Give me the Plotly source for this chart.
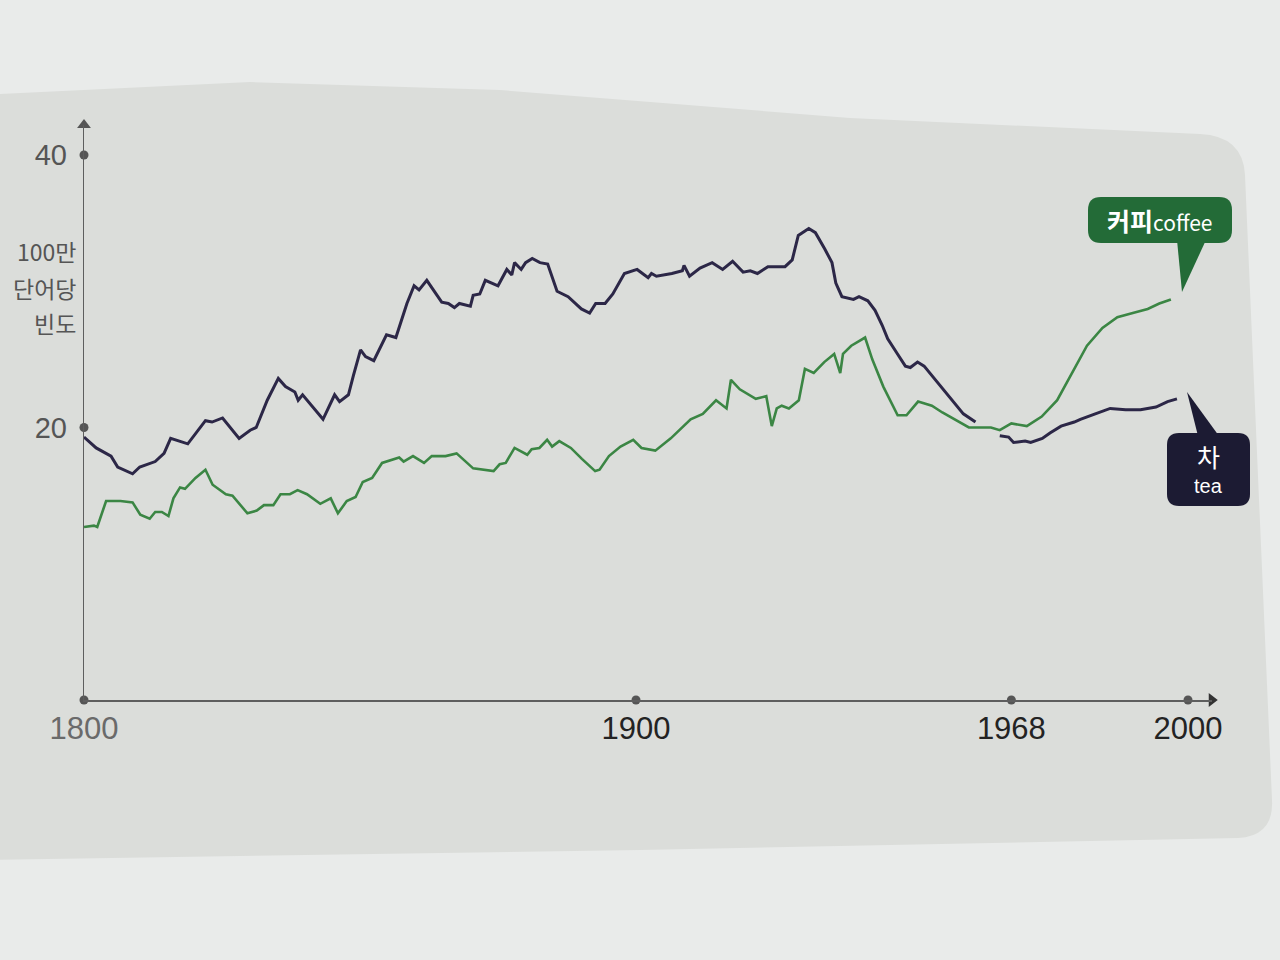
import plotly.graph_objects as go

# ---------------- data ----------------
tea_year = [1800.0, 1802.2, 1804.9, 1806.1, 1808.8, 1810.1, 1812.9, 1814.5, 1815.7, 1816.6,
            1818.8, 1822.0, 1823.2, 1825.1, 1828.1, 1830.1, 1831.2, 1833.2, 1835.2, 1836.5,
            1838.2, 1838.8, 1839.6, 1843.3, 1845.4, 1846.3, 1847.9, 1848.8, 1850.1, 1851.0,
            1852.5, 1854.8, 1856.5, 1858.5, 1859.8, 1860.7, 1862.1, 1864.8, 1866.0, 1867.1,
            1868.0, 1870.0, 1870.5, 1871.7, 1872.7, 1875.0, 1876.6, 1877.5, 1878.0, 1879.2,
            1880.0, 1881.2, 1882.6, 1884.0, 1885.7, 1887.7, 1890.1, 1891.6, 1892.7, 1894.4,
            1895.8, 1897.9, 1900.2, 1902.2, 1902.8, 1903.7, 1906.5, 1908.4, 1908.7, 1909.7,
            1911.6, 1913.8, 1915.7, 1917.5, 1919.4, 1920.7, 1922.0, 1923.9, 1927.0, 1928.3,
            1929.4, 1931.3, 1932.5, 1934.2, 1935.5, 1936.2, 1937.3, 1939.4, 1940.4, 1942.0,
            1943.3, 1944.6, 1945.6, 1947.2, 1948.8, 1949.7, 1951.0, 1952.2, 1954.2, 1956.7,
            1959.3, 1961.5,
            1963.7,
            1965.9, 1967.5, 1968.4, 1970.5, 1971.5, 1973.6, 1975.0, 1977.0, 1979.4, 1980.5,
            1983.2, 1985.9, 1988.7, 1991.4, 1994.2, 1996.3, 1998.0]
tea_value = [19.3, 18.5, 17.9, 17.1, 16.6, 17.1, 17.5, 18.1, 19.2, 19.1,
             18.8, 20.5, 20.4, 20.7, 19.2, 19.8, 20.0, 22.0, 23.6, 23.0,
             22.6, 22.0, 22.4, 20.6, 22.4, 21.9, 22.4, 23.8, 25.7, 25.2,
             24.9, 26.8, 26.6, 29.1, 30.4, 30.1, 30.8, 29.2, 29.1, 28.8,
             29.1, 28.9, 29.7, 29.8, 30.8, 30.4, 31.6, 31.2, 32.1, 31.6,
             32.1, 32.4, 32.1, 32.0, 30.0, 29.6, 28.7, 28.4, 29.1, 29.1,
             29.8, 31.3, 31.6, 31.0, 31.3, 31.1, 31.3, 31.5, 31.9, 31.1,
             31.7, 32.1, 31.6, 32.2, 31.4, 31.5, 31.3, 31.8, 31.8, 32.3,
             34.1, 34.6, 34.3, 33.1, 32.1, 30.6, 29.6, 29.4, 29.6, 29.3,
             28.6, 27.5, 26.5, 25.5, 24.5, 24.4, 24.8, 24.5, 23.5, 22.3,
             21.0, 20.4,
             None,
             19.4, 19.3, 18.9, 19.0, 18.9, 19.2, 19.6, 20.1, 20.4, 20.6,
             21.0, 21.4, 21.3, 21.3, 21.5, 21.9, 22.1]

coffee_year = [1800.0, 1801.8, 1802.4, 1804.0, 1806.6, 1808.8, 1810.2, 1811.9, 1812.9, 1814.1,
               1815.3, 1816.2, 1817.4, 1818.3, 1820.2, 1822.0, 1823.3, 1825.7, 1826.9, 1829.6,
               1831.3, 1832.6, 1834.3, 1835.6, 1837.3, 1838.7, 1840.4, 1842.8, 1844.7, 1846.0,
               1847.6, 1849.2, 1850.5, 1852.2, 1854.0, 1857.1, 1857.9, 1859.6, 1861.6, 1863.0,
               1865.5, 1867.5, 1870.5, 1874.2, 1875.3, 1876.4, 1878.0, 1880.3, 1881.1, 1882.5,
               1883.9, 1884.8, 1886.1, 1888.2, 1890.2, 1892.6, 1893.4, 1895.1, 1897.2, 1899.5,
               1901.0, 1903.5, 1906.3, 1909.9, 1912.1, 1914.5, 1916.4, 1917.2, 1918.8, 1921.7,
               1923.6, 1924.6, 1925.5, 1926.4, 1927.7, 1929.5, 1930.6, 1932.2, 1934.1, 1935.9,
               1937.0, 1937.5, 1939.0, 1941.5, 1942.8, 1944.8, 1947.4, 1949.0, 1951.1, 1953.6,
               1955.5, 1958.1, 1960.3, 1962.4, 1964.3, 1965.9, 1968.0, 1970.8, 1973.5, 1976.3,
               1979.0, 1981.7, 1984.5, 1987.2, 1990.0, 1992.7, 1994.8, 1996.9]
coffee_value = [12.7, 12.8, 12.7, 14.6, 14.6, 14.5, 13.6, 13.3, 13.8, 13.8,
                13.5, 14.8, 15.6, 15.5, 16.3, 16.9, 15.8, 15.1, 15.0, 13.7,
                13.9, 14.3, 14.3, 15.1, 15.1, 15.4, 15.1, 14.4, 14.8, 13.7,
                14.6, 14.9, 16.0, 16.3, 17.4, 17.8, 17.5, 17.9, 17.4, 17.9,
                17.9, 18.1, 17.0, 16.8, 17.3, 17.4, 18.5, 18.0, 18.4, 18.5,
                19.1, 18.6, 19.0, 18.5, 17.7, 16.8, 16.9, 17.9, 18.6, 19.1,
                18.5, 18.3, 19.2, 20.6, 21.0, 22.0, 21.4, 23.5, 22.8, 22.1,
                22.3, 20.1, 21.4, 21.6, 21.4, 22.0, 24.3, 24.0, 24.8, 25.4,
                24.0, 25.4, 26.0, 26.6, 25.0, 23.0, 20.9, 20.9, 21.9, 21.6,
                21.1, 20.5, 20.0, 20.0, 20.0, 19.8, 20.3, 20.1, 20.8, 22.0,
                24.0, 26.0, 27.3, 28.1, 28.4, 28.7, 29.1, 29.4]

x_ticks = [1800, 1900, 1968, 2000]
x_tick_labels = ["1800", "1900", "1968", "2000"]
y_ticks = [20, 40]
y_tick_labels = ["20", "40"]
y_title_lines = ["100만", "단어당", "빈도"]
coffee_label = ("커피", "coffee")
tea_label = ("차", "tea")

assert len(tea_year) == len(tea_value)
assert len(coffee_year) == len(coffee_value)

# ---------------- styling / layout ----------------
W, H = 1280, 960
X_MIN, X_MAX = 1800, 2004.3
Y_MIN, Y_MAX = 0, 42.2
AXIS_X_PX = 84          # pixel position of the 1800 axis
END_X_PX = 1188         # pixel position of the year 2000
TEA_COLOR = "#2c2747"
COFFEE_COLOR = "#3b8644"
AXIS_COLOR = "#5e5e5e"
PAGE_BG = "#e9ebea"
PANEL_BG = "#dbddda"
NUM_FONT = "Liberation Sans, Arial"


def px(x):
    return x / W


def py(y):
    return 1 - y / H


def path_from_px(cmds):
    out = []
    for c in cmds:
        if c[0] == "Z":
            out.append("Z")
            continue
        op, pts = c[0], c[1:]
        coords = " ".join(f"{px(a):.5f},{py(b):.5f}" for a, b in pts)
        out.append(f"{op} {coords}")
    return " ".join(out)


def rounded_box(x0, y0, x1, y1, r):
    return path_from_px([
        ("M", (x0 + r, y0)), ("L", (x1 - r, y0)), ("Q", (x1, y0), (x1, y0 + r)),
        ("L", (x1, y1 - r)), ("Q", (x1, y1), (x1 - r, y1)),
        ("L", (x0 + r, y1)), ("Q", (x0, y1), (x0, y1 - r)),
        ("L", (x0, y0 + r)), ("Q", (x0, y0), (x0 + r, y0)), ("Z",),
    ])


px_per_year = (END_X_PX - AXIS_X_PX) / 200.0
x_domain_right = AXIS_X_PX + (X_MAX - X_MIN) * px_per_year

fig = go.Figure()

fig.add_trace(go.Scatter(x=tea_year, y=tea_value, mode="lines", name="tea",
                         line=dict(color=TEA_COLOR, width=3), connectgaps=False,
                         hoverinfo="x+y"))
fig.add_trace(go.Scatter(x=coffee_year, y=coffee_value, mode="lines", name="coffee",
                         line=dict(color=COFFEE_COLOR, width=2.6), hoverinfo="x+y"))

# tick dots on the axes
fig.add_trace(go.Scatter(x=x_ticks + [X_MIN] * len(y_ticks),
                         y=[Y_MIN] * len(x_ticks) + y_ticks,
                         mode="markers", marker=dict(color="#555555", size=9),
                         cliponaxis=False, hoverinfo="skip"))
# axis arrow heads
fig.add_trace(go.Scatter(x=[X_MIN], y=[Y_MAX], mode="markers",
                         marker=dict(symbol="triangle-up", color="#555555", size=12),
                         cliponaxis=False, hoverinfo="skip"))
fig.add_trace(go.Scatter(x=[X_MAX], y=[Y_MIN], mode="markers",
                         marker=dict(symbol="triangle-right", color="#333333", size=12),
                         cliponaxis=False, hoverinfo="skip"))

shapes = []
# rounded grey panel behind the chart
panel = path_from_px([
    ("M", (-20, 95)), ("L", (250, 82)), ("L", (500, 90)), ("L", (850, 118)), ("L", (1200, 134)),
    ("Q", (1243, 136), (1245, 175)), ("L", (1272, 800)), ("Q", (1274, 836), (1238, 838)),
    ("L", (640, 850)), ("L", (-20, 860)), ("Z",),
])
shapes.append(dict(type="path", xref="paper", yref="paper", path=panel,
                   fillcolor=PANEL_BG, line=dict(width=0), layer="below"))

# coffee callout
shapes.append(dict(type="path", xref="paper", yref="paper",
                   path=rounded_box(1088, 197, 1232, 243, 13),
                   fillcolor="#236b37", line=dict(width=0)))
shapes.append(dict(type="path", xref="paper", yref="paper",
                   path=path_from_px([("M", (1177, 240)), ("L", (1206, 240)),
                                      ("L", (1182, 292)), ("Z",)]),
                   fillcolor="#236b37", line=dict(width=0)))
# tea callout
shapes.append(dict(type="path", xref="paper", yref="paper",
                   path=rounded_box(1167, 433, 1250, 506, 12),
                   fillcolor="#1c1b33", line=dict(width=0)))
shapes.append(dict(type="path", xref="paper", yref="paper",
                   path=path_from_px([("M", (1187, 392)), ("L", (1219, 436)),
                                      ("L", (1198, 436)), ("Z",)]),
                   fillcolor="#1c1b33", line=dict(width=0)))

annotations = []
for line_text, ycen in zip(y_title_lines, [251, 288, 323]):
    annotations.append(dict(text=line_text, xref="paper", yref="paper", x=px(78), y=py(ycen),
                            xanchor="right", yanchor="middle", showarrow=False,
                            font=dict(family="Noto Sans CJK KR", size=23, color="#555555")))
annotations += [
    dict(text=(f"<b><span style='font-size:25px'>{coffee_label[0]}</span></b>"
               f"<span style='font-size:21px'>{coffee_label[1]}</span>"),
         xref="paper", yref="paper", x=px(1160), y=py(220),
         xanchor="center", yanchor="middle", showarrow=False,
         font=dict(family="Noto Sans CJK KR", size=22, color="#ffffff")),
    dict(text=tea_label[0], xref="paper", yref="paper", x=px(1208), y=py(456),
         xanchor="center", yanchor="middle", showarrow=False,
         font=dict(family="Noto Sans CJK KR", size=25, color="#ffffff")),
    dict(text=tea_label[1], xref="paper", yref="paper", x=px(1208), y=py(486),
         xanchor="center", yanchor="middle", showarrow=False,
         font=dict(family="Liberation Sans", size=20, color="#ffffff")),
]

x_ticktext = [f"<span style='color:#6a6a6a'>{x_tick_labels[0]}</span>"] + x_tick_labels[1:]

fig.update_layout(
    width=W, height=H,
    margin=dict(l=0, r=0, t=0, b=0, pad=0),
    paper_bgcolor=PAGE_BG,
    plot_bgcolor="rgba(0,0,0,0)",
    showlegend=False,
    shapes=shapes,
    annotations=annotations,
    xaxis=dict(domain=[px(AXIS_X_PX), px(x_domain_right)], range=[X_MIN, X_MAX],
               automargin=False,
               showgrid=False, zeroline=False, showline=True,
               linecolor=AXIS_COLOR, linewidth=1.6,
               tickvals=x_ticks, ticktext=x_ticktext, ticks="",
               ticklabelstandoff=0,
               tickfont=dict(family=NUM_FONT, size=31, color="#232323")),
    yaxis=dict(domain=[1 - 700 / H, 1 - 125 / H], range=[Y_MIN, Y_MAX], automargin=False,
               showgrid=False, zeroline=False, showline=True,
               linecolor=AXIS_COLOR, linewidth=1.4,
               tickvals=y_ticks, ticktext=y_tick_labels, ticks="",
               ticklabelstandoff=10,
               tickfont=dict(family=NUM_FONT, size=29, color="#555555")),
)

fig.write_html("out.html", config={"displayModeBar": False},
               post_script="document.body.style.margin='0px';document.body.style.overflow='hidden';")
